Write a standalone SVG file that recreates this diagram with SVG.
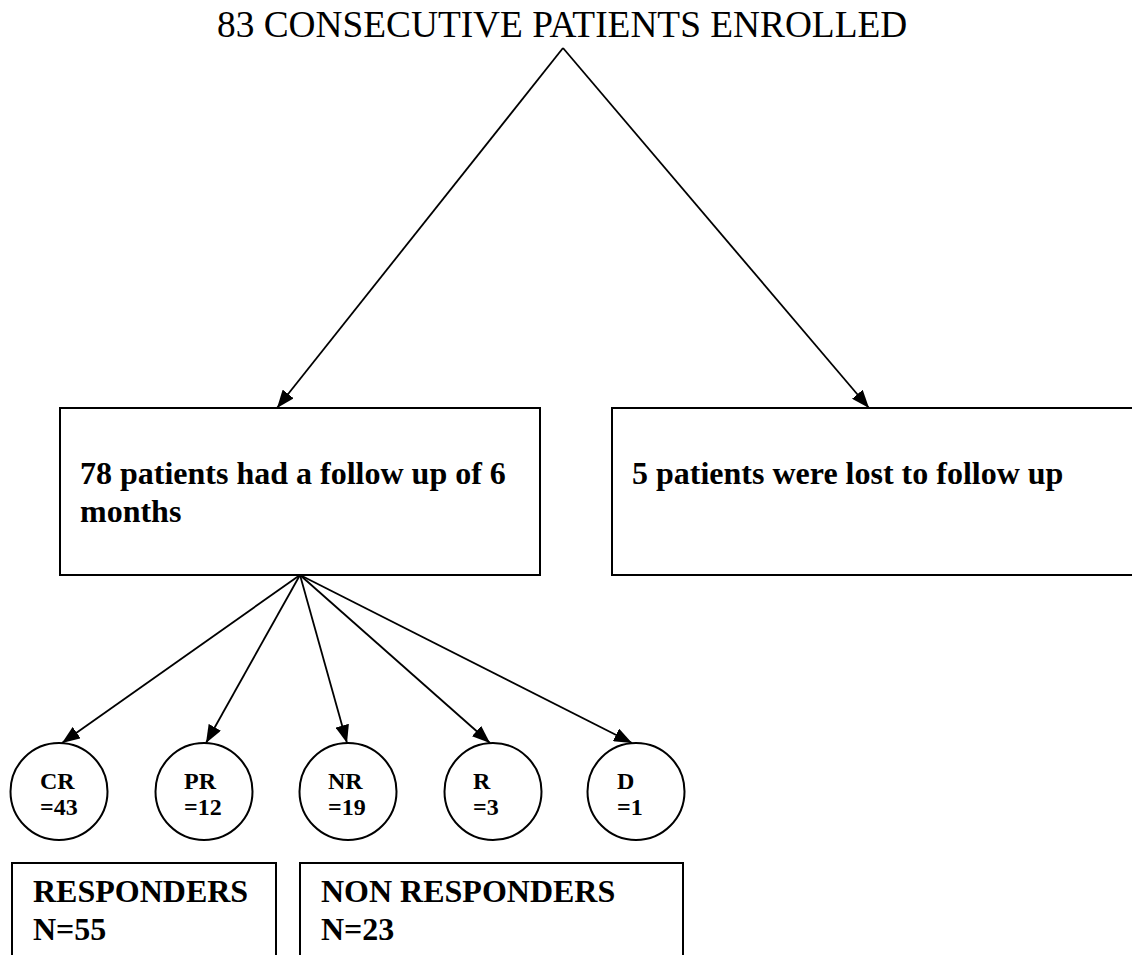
<svg xmlns="http://www.w3.org/2000/svg" width="1132" height="955" viewBox="0 0 1132 955">
<style>
.bx{fill:none;stroke:#000;stroke-width:2}
.ln{stroke:#000;stroke-width:1.8;fill:none}
.t{font-family:"Liberation Serif","Times New Roman",serif;fill:#000}
.b32{font-size:32px;font-weight:bold}
.b24{font-size:24px;font-weight:bold}
</style>
<defs>
<marker id="ah" viewBox="0 0 18 14" refX="18" refY="7" markerWidth="18" markerHeight="14" markerUnits="userSpaceOnUse" orient="auto">
<path d="M0,0 L18,7 L0,14 z" fill="#000"/>
</marker>
</defs>
<rect width="1132" height="955" fill="#fff"/>
<g id="title">
<text class="t" x="217" y="37" font-size="37.33">83 CONSECUTIVE PATIENTS ENROLLED</text>
</g>
<g id="connectors">
<line class="ln" x1="563" y1="48" x2="277" y2="408" marker-end="url(#ah)"/>
<line class="ln" x1="563" y1="48" x2="869" y2="408" marker-end="url(#ah)"/>
<line class="ln" x1="300" y1="575" x2="62" y2="743" marker-end="url(#ah)"/>
<line class="ln" x1="300" y1="575" x2="206" y2="743" marker-end="url(#ah)"/>
<line class="ln" x1="300" y1="575" x2="347" y2="743" marker-end="url(#ah)"/>
<line class="ln" x1="300" y1="575" x2="490" y2="743" marker-end="url(#ah)"/>
<line class="ln" x1="300" y1="575" x2="632" y2="743" marker-end="url(#ah)"/>
</g>
<g id="followed">
<rect class="bx" x="60" y="408" width="480" height="167"/>
<text class="t b32" x="80" y="484">78 patients had a follow up of 6</text>
<text class="t b32" x="80" y="522">months</text>
</g>
<g id="lost">
<rect class="bx" x="612" y="408" width="530" height="167"/>
<text class="t b32" x="632" y="484">5 patients were lost to follow up</text>
</g>
<g id="cr">
<circle class="bx" cx="59" cy="791.5" r="48.5"/>
<text class="t b24" x="40" y="789">CR</text>
<text class="t b24" x="40" y="815">=43</text>
</g>
<g id="pr">
<circle class="bx" cx="204" cy="791.5" r="48.5"/>
<text class="t b24" x="184" y="789">PR</text>
<text class="t b24" x="184" y="815">=12</text>
</g>
<g id="nr">
<circle class="bx" cx="348" cy="791.5" r="48.5"/>
<text class="t b24" x="328" y="789">NR</text>
<text class="t b24" x="328" y="815">=19</text>
</g>
<g id="r">
<circle class="bx" cx="493" cy="791.5" r="48.5"/>
<text class="t b24" x="473" y="789">R</text>
<text class="t b24" x="473" y="815">=3</text>
</g>
<g id="d">
<circle class="bx" cx="636" cy="791.5" r="48.5"/>
<text class="t b24" x="617" y="789">D</text>
<text class="t b24" x="617" y="815">=1</text>
</g>
<g id="responders">
<rect class="bx" x="12" y="863" width="264" height="110"/>
<text class="t b32" x="33" y="902">RESPONDERS</text>
<text class="t b32" x="33" y="940">N=55</text>
</g>
<g id="nonresponders">
<rect class="bx" x="300" y="863" width="383" height="110"/>
<text class="t b32" x="321" y="902">NON RESPONDERS</text>
<text class="t b32" x="321" y="940">N=23</text>
</g>
</svg>
